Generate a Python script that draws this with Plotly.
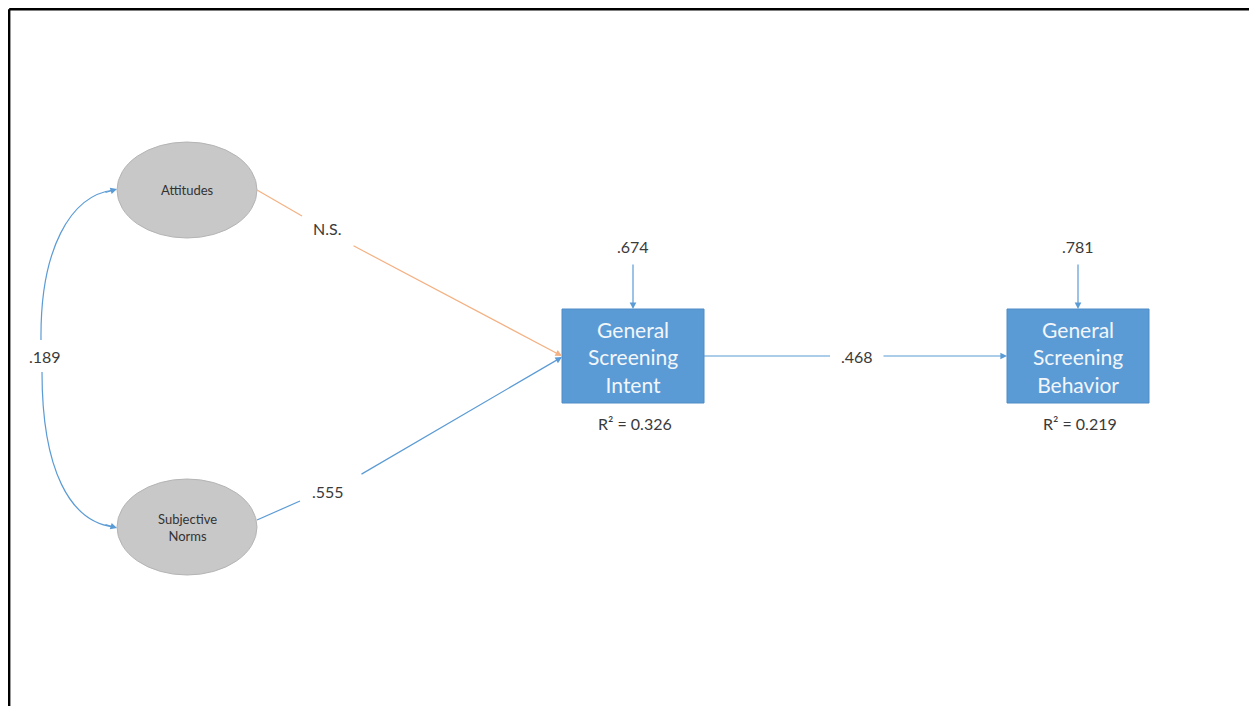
import plotly.graph_objects as go

# path model values
latent_names = ["Attitudes", "Subjective<br>Norms"]
observed_names = ["General<br>Screening<br>Intent", "General<br>Screening<br>Behavior"]
path_labels = ["N.S.", ".555", ".468"]
covariance_label = ".189"
residual_labels = [".674", ".781"]
r_squared_labels = ["R\u00b2 = 0.326", "R\u00b2 = 0.219"]

# layout of the diagram (pixel-like coords, y down)
W, H = 1257, 706
OFF = 8  # page body margin
latent_xy = [(187, 190), (187, 527)]
latent_r = (70, 48)
box_xy = [(633, 356), (1078, 356)]
box_half = (71, 47)

BLUE = "#5b9bd5"
ORANGE = "#f4b183"
TXT = "#3a3a3a"
FONT = "Lato"

fig = go.Figure()
shapes = []
annots = []


def seg(x0, y0, x1, y1, color=BLUE, width=1.2):
    shapes.append(dict(type="line", xref="x", yref="y", x0=x0, y0=y0, x1=x1, y1=y1,
                       line=dict(color=color, width=width)))


def arrow(x0, y0, x1, y1, color=BLUE):
    annots.append(dict(x=x1, y=y1, ax=x0, ay=y0, xref="x", yref="y", axref="x", ayref="y",
                       text="", showarrow=True, arrowhead=2, arrowsize=1.1, arrowwidth=1.2,
                       arrowcolor=color))


def label(x, y, text, size=16, color=TXT):
    annots.append(dict(x=x, y=y, xref="x", yref="y", text=text, showarrow=False,
                       font=dict(family=FONT, size=size, color=color)))


# frame
seg(9.2, 9.2, W, 9.2, "#000000", 2.4)
seg(9.2, 9.2, 9.2, H, "#000000", 2.4)
seg(W - 1.5, 9.2, W - 1.5, H, "#c8c8c8", 1)

# latent ellipses
for (cx, cy), name in zip(latent_xy, latent_names):
    rx, ry = latent_r
    shapes.append(dict(type="circle", xref="x", yref="y", x0=cx - rx, x1=cx + rx,
                       y0=cy - ry, y1=cy + ry, fillcolor="#c8c8c8",
                       line=dict(color="#b4b4b4", width=1)))
    label(cx, cy, name, size=13, color="#333333")

# observed boxes
for (cx, cy), name, res, r2 in zip(box_xy, observed_names, residual_labels, r_squared_labels):
    hw, hh = box_half
    shapes.append(dict(type="rect", xref="x", yref="y", x0=cx - hw, x1=cx + hw,
                       y0=cy - hh, y1=cy + hh, fillcolor=BLUE,
                       line=dict(color="#4f8cc6", width=1)))
    label(cx, cy + 1, name, size=21, color="#f2f6fb")
    label(cx, 246, res)
    arrow(cx, 263, cx, cy - hh)
    label(cx + 2, 423, r2)

# Attitudes -> Intent (N.S.)
ax_, ay_ = latent_xy[0][0] + latent_r[0], latent_xy[0][1]
bx, by = box_xy[0][0] - box_half[0], box_xy[0][1]
seg(ax_, ay_, 302, 216, ORANGE)
arrow(352, 245, bx, by, ORANGE)
label(327, 228, path_labels[0])

# Subjective Norms -> Intent
sx, sy = latent_xy[1][0] + latent_r[0], latent_xy[1][1] - 7
seg(sx, sy, 300, 501)
arrow(360, 475, bx, by + 1)
label(328, 491, path_labels[1])

# Intent -> Behavior
seg(box_xy[0][0] + box_half[0], 356, 830, 356)
arrow(882, 356, box_xy[1][0] - box_half[0], 356)
label(857, 356, path_labels[2])

# covariance curve
lx = latent_xy[0][0] - latent_r[0]
shapes.append(dict(type="path", xref="x", yref="y",
                   path=f"M {lx - 3},{latent_xy[0][1]} C 70,195 40,250 41,340",
                   line=dict(color=BLUE, width=1.2)))
shapes.append(dict(type="path", xref="x", yref="y",
                   path=f"M 42,372 C 42,470 70,522 {lx - 3},{latent_xy[1][1]}",
                   line=dict(color=BLUE, width=1.2)))
arrow(104, 193, lx, latent_xy[0][1] - 1)
arrow(104, 524, lx, latent_xy[1][1] + 1)
label(45, 356, covariance_label)

fig.update_layout(
    width=W - OFF, height=H - OFF,
    margin=dict(l=0, r=0, t=0, b=0),
    paper_bgcolor="white", plot_bgcolor="white",
    xaxis=dict(range=[OFF, W], visible=False, fixedrange=True),
    yaxis=dict(range=[H, OFF], visible=False, fixedrange=True),
    shapes=shapes, annotations=annots, showlegend=False,
)

fig.write_html("out.html")
